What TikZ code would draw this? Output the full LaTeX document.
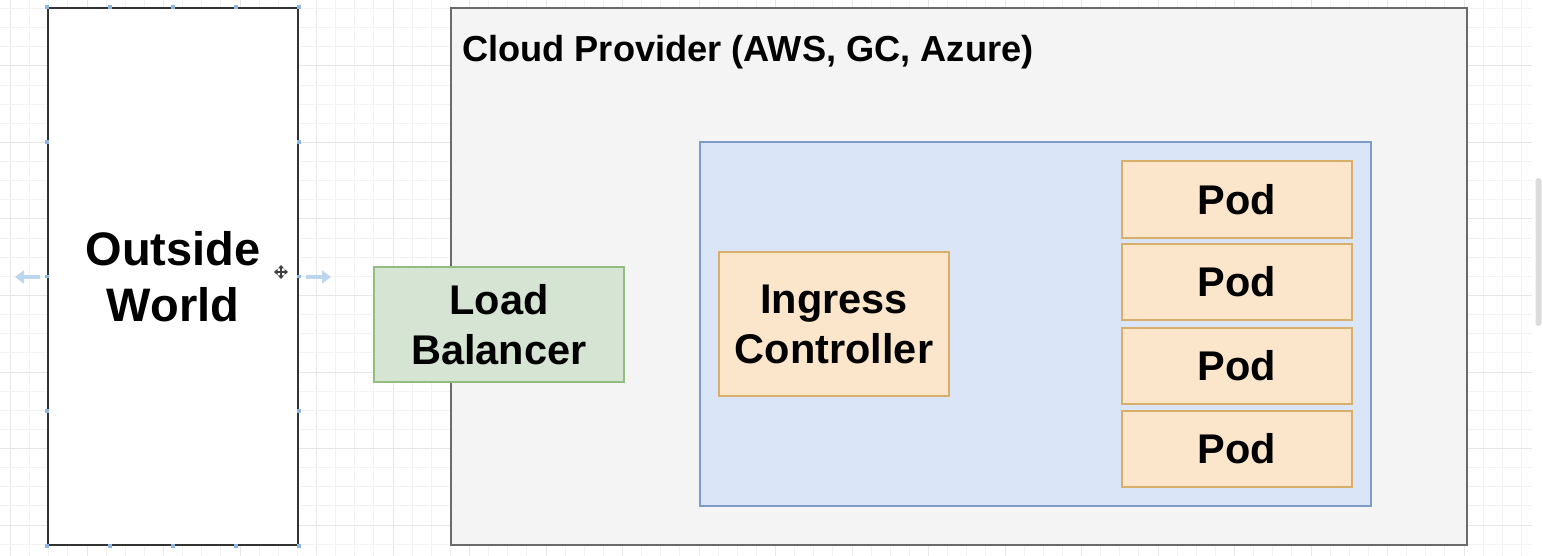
\documentclass[tikz,border=0pt]{standalone}
\usepackage{fontspec}
\setmainfont{Liberation Sans}
\usetikzlibrary{arrows.meta,calc}

\definecolor{gridminor}{HTML}{F2F2F2}
\definecolor{gridmajor}{HTML}{E6E6E6}
\definecolor{cloudfill}{HTML}{F4F4F4}
\definecolor{cloudline}{HTML}{6A6A6A}
\definecolor{clusterfill}{HTML}{DAE6F8}
\definecolor{clusterline}{HTML}{7E9CC8}
\definecolor{podfill}{HTML}{FCE6CB}
\definecolor{podline}{HTML}{D8AE6A}
\definecolor{lbfill}{HTML}{D6E5D3}
\definecolor{lbline}{HTML}{94BC80}
\definecolor{handle}{HTML}{8DB7E2}
\definecolor{hint}{HTML}{BCD6EF}
\definecolor{thumb}{HTML}{DCDCDC}

\tikzset{
  shape box/.style={rectangle, inner sep=0pt, align=center, font=\bfseries\fontsize{41.5}{50}\selectfont},
  outsidebox/.style={shape box, draw=black!80, line width=1.8pt, fill=white, font=\bfseries\fontsize{47}{56}\selectfont},
  cloudbox/.style={shape box, draw=cloudline, line width=1.8pt, fill=cloudfill},
  clusterbox/.style={shape box, draw=clusterline, line width=1.4pt, fill=clusterfill},
  podbox/.style={shape box, draw=podline, line width=1.5pt, fill=podfill},
  lbbox/.style={shape box, draw=lbline, line width=1.5pt, fill=lbfill},
  handlemark/.style={fill=handle, inner sep=0pt, minimum size=3.5pt, rectangle},
  hintarrow/.style={draw=hint, line width=4pt, -{Triangle[length=9pt,width=13pt]}},
  cursorarrow/.style={draw=black!75, line width=1.8pt, -{Triangle[length=3.5pt,width=6pt]}},
}

\begin{document}
\begin{tikzpicture}[x=1pt,y=-1pt]
  \useasboundingbox (0,0) rectangle (1543,556);
  \fill[white] (0,0) rectangle (1543,556);

  % editor grid: minor lines every 19.125, a darker line every fourth
  \foreach \k in {0,...,79} {
    \pgfmathsetmacro{\gx}{10.5+19.125*\k}
    \pgfmathtruncatemacro{\gm}{mod(\k,4)}
    \ifnum\gm=0
      \draw[gridmajor, line width=1pt] (\gx,0) -- (\gx,556);
    \else
      \draw[gridminor, line width=0.8pt] (\gx,0) -- (\gx,556);
    \fi
  }
  \foreach \k in {0,...,28} {
    \pgfmathsetmacro{\gy}{8.625+19.125*\k}
    \pgfmathtruncatemacro{\gm}{mod(\k+1,4)}
    \ifnum\gm=0
      \draw[gridmajor, line width=1pt] (0,\gy) -- (1532,\gy);
    \else
      \draw[gridminor, line width=0.8pt] (0,\gy) -- (1532,\gy);
    \fi
  }

  % scrollbar
  \fill[white] (1532,0) rectangle (1543,556);
  \fill[thumb, rounded corners=3pt] (1535.5,178) rectangle (1541.5,326);

  % outside world
  \node[outsidebox, minimum width=250pt, minimum height=537pt] (outside) at (173,276.5) {Outside\\World};

  % cloud provider and its contents
  \node[cloudbox, minimum width=1016pt, minimum height=537pt] (cloud) at (959,276.5) {};
  \node[anchor=base west, inner sep=0pt, font=\bfseries\fontsize{36.2}{43}\selectfont] (title) at (462,62) {Cloud Provider (AWS, GC, Azure)};

  \node[clusterbox, minimum width=671pt, minimum height=364pt] (cluster) at (1035.5,324) {};

  \node[podbox, minimum width=230pt, minimum height=144pt] (ingress) at (834,324) {Ingress\\Controller};

  \node[podbox, minimum width=230pt, minimum height=77pt] (pod1) at (1237,199.5) {Pod};
  \node[podbox, minimum width=230pt, minimum height=76pt] (pod2) at (1237,282) {Pod};
  \node[podbox, minimum width=230pt, minimum height=76pt] (pod3) at (1237,366) {Pod};
  \node[podbox, minimum width=230pt, minimum height=76pt] (pod4) at (1237,449) {Pod};

  \node[lbbox, minimum width=250pt, minimum height=115pt] (lb) at (499,324.5) {Load\\Balancer};

  % selection handles around the outside world box
  \foreach \p in {north west, north, north east, south west, south, south east, west, east}
    \node[handlemark] at (outside.\p) {};
  \foreach \f in {0.25,0.75} {
    \node[handlemark] at ($(outside.north west)!\f!(outside.north east)$) {};
    \node[handlemark] at ($(outside.south west)!\f!(outside.south east)$) {};
    \node[handlemark] at ($(outside.north west)!\f!(outside.south west)$) {};
    \node[handlemark] at ($(outside.north east)!\f!(outside.south east)$) {};
  }

  % resize hints beside the selected box
  \coordinate (hintLa) at (40,277);
  \coordinate (hintLb) at (15,277);
  \coordinate (hintRa) at (306,277);
  \coordinate (hintRb) at (331,277);
  \draw[hintarrow] (hintLa) -- (hintLb);
  \draw[hintarrow] (hintRa) -- (hintRb);

  % move cursor
  \coordinate (cur) at (281,272);
  \draw[cursorarrow] (cur) -- ++(0,-7);
  \draw[cursorarrow] (cur) -- ++(0,7);
  \draw[cursorarrow] (cur) -- ++(-7,0);
  \draw[cursorarrow] (cur) -- ++(7,0);
\end{tikzpicture}
\end{document}
